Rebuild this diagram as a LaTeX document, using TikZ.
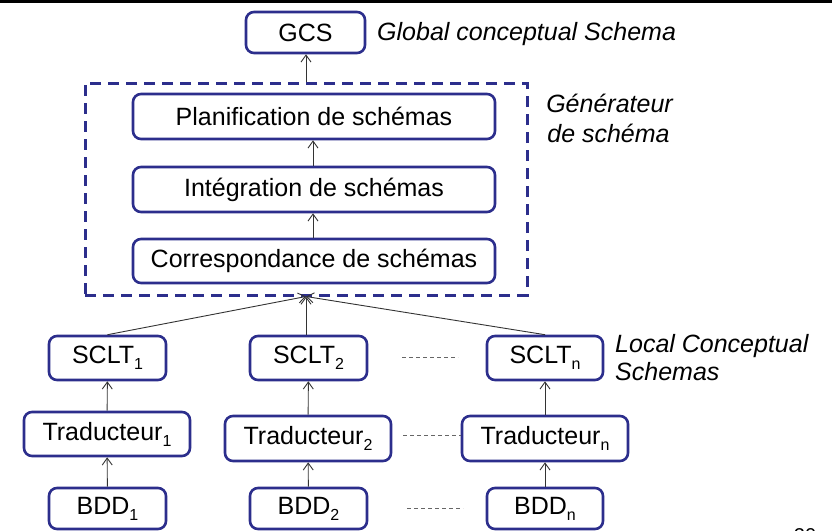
\documentclass[tikz,border=0pt]{standalone}
\usepackage{fontspec}
\setmainfont{Liberation Sans}
\usetikzlibrary{arrows.meta}
\definecolor{boxblue}{RGB}{44,46,140}
\newcommand{\mysub}[1]{\raisebox{-6pt}{\fontsize{16}{18}\selectfont #1}}
\begin{document}
\begin{tikzpicture}[x=1pt,y=-1pt,
  font=\fontsize{25}{30}\selectfont,
  bx/.style={draw=boxblue, line width=2.6pt, rounded corners=8pt, fill=white, inner sep=0pt, minimum height=44pt},
  lbl/.style={font=\fontsize{25}{30}\selectfont\itshape, inner sep=0pt},
  arr/.style={draw=black!80, line width=0.9pt, -{Straight Barb[length=7pt,width=10pt]}},
  dots/.style={draw=black!60, line width=0.8pt, dash pattern=on 4pt off 3pt},
  genbox/.style={draw=boxblue, line width=3pt, dash pattern=on 11pt off 7pt, inner sep=0pt}]
\useasboundingbox (0,0) rectangle (832,530);
\fill[black] (0,0) rectangle (832,3);

% top part
\node[bx, minimum width=119pt, minimum height=41pt] (gcs) at (305.5,32.5) {GCS};
\node[lbl, anchor=base west] (gcslbl) at (377,40) {Global conceptual Schema};

\node[genbox, minimum width=442pt, minimum height=212pt] (gen) at (306,189) {};
\node[bx, minimum width=362pt, minimum height=45pt] (plan) at (314,116.5) {Planification de schémas};
\node[bx, minimum width=362pt, minimum height=45pt] (integ) at (314,189.5) {Intégration de schémas};
\node[bx, minimum width=362pt, minimum height=44pt] (corr) at (314,261) {Correspondance de schémas};
\node[lbl, anchor=base] (genlbl1) at (609.5,112) {Générateur};
\node[lbl, anchor=base] (genlbl2) at (608.5,142) {de schéma};

% bottom part
\node[bx, minimum width=117pt] (s1) at (107.5,358) {SCLT\mysub{1}};
\node[bx, minimum width=166pt] (t1) at (107,434) {Traducteur\mysub{1}};
\node[bx, minimum width=117pt, minimum height=41pt] (b1) at (107.5,508.5) {BDD\mysub{1}};

\node[bx, minimum width=117pt] (s2) at (308.5,358) {SCLT\mysub{2}};
\node[bx, minimum width=166pt, minimum height=45pt] (t2) at (308,438.5) {Traducteur\mysub{2}};
\node[bx, minimum width=117pt, minimum height=41pt] (b2) at (308.5,508.5) {BDD\mysub{2}};

\node[bx, minimum width=116pt] (sn) at (545,358) {SCLT\mysub{n}};
\node[bx, minimum width=166pt, minimum height=45pt] (tn) at (545,438.5) {Traducteur\mysub{n}};
\node[bx, minimum width=116pt, minimum height=41pt] (bn) at (545,508.5) {BDD\mysub{n}};

\node[lbl, anchor=base west] (loclbl1) at (615,352) {Local Conceptual};
\node[lbl, anchor=base west] (loclbl2) at (615,380) {Schemas};

% dotted separators
\coordinate (d1a) at (402,357); \coordinate (d1b) at (458,357);
\coordinate (d2a) at (403,435);
\coordinate (d3a) at (407,508); \coordinate (d3b) at (463,508);
\draw[dots] (d1a) -- (d1b);
\draw[dots] (d2a) -- (tn.west |- d2a);
\draw[dots] (d3a) -- (d3b);

% arrows
\draw[arr] (b1) -- (t1);
\draw[arr] (t1) -- (s1);
\draw[arr] (b2) -- (t2);
\draw[arr] (t2) -- (s2);
\draw[arr] (bn) -- (tn);
\draw[arr] (tn) -- (sn);
\draw[arr] (s1.north) -- (gen.south);
\draw[arr] (s2.north -| gen.south) -- (gen.south);
\draw[arr] (sn.north) -- (gen.south);
\draw[arr] (corr.north -| 313,0) -- (integ.south -| 313,0);
\draw[arr] (integ.north -| 313,0) -- (plan.south -| 313,0);
\draw[arr] (gen.north) -- (gcs.south -| gen.north);

% page number (cut off, as in the reference)
\node[font=\fontsize{20}{24}\selectfont, anchor=north] (pnum) at (805,525) {20};
\end{tikzpicture}
\end{document}
